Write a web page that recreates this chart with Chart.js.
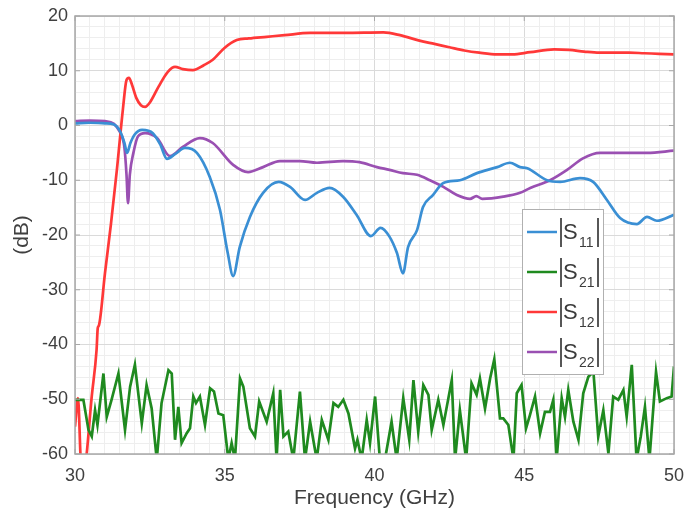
<!DOCTYPE html>
<html>
<head>
<meta charset="utf-8">
<script src="https://cdn.jsdelivr.net/npm/chart.js@4.4.1/dist/chart.umd.min.js"></script>
<style>
  html, body { margin: 0; padding: 0; background: #fff; }
  #wrap { width: 686px; height: 511px; position: relative; }
</style>
</head>
<body>
<div id="wrap"><canvas id="sparams"></canvas></div>
<script>
// S-parameter magnitudes (dB) vs frequency (GHz)
const freqS11 = [30, 30.5, 31, 31.3, 31.5, 31.65, 31.74, 31.85, 32.0, 32.24, 32.6, 32.85, 33.07, 33.35, 33.67, 34.07, 34.5, 34.84, 35.1, 35.28, 35.5, 35.84, 36.28, 36.8, 37.18, 37.68, 38.08, 38.5, 38.95, 39.4, 39.88, 40.2, 40.5, 40.75, 40.95, 41.12, 41.42, 41.62, 41.95, 42.3, 42.85, 43.42, 44.1, 44.52, 44.86, 45.1, 45.76, 46.2, 46.86, 47.3, 47.76, 48.2, 48.76, 49.1, 49.43, 50];
const magS11 = [0.4, 0.5, 0.4, 0.2, -1, -3.2, -5.0, -3.2, -1.6, -0.8, -1.4, -3.5, -6.1, -5.2, -4.1, -5.0, -9.4, -15.4, -23.3, -27.5, -22.2, -16.7, -12.3, -10.3, -11.2, -13.6, -12.3, -11.4, -13, -16.3, -20.2, -18.7, -20.3, -23.3, -27, -22.2, -19.1, -14.9, -12.7, -10.5, -10, -8.7, -7.6, -6.8, -7.6, -7.8, -10, -10.3, -9.6, -10.3, -13.6, -16.9, -18, -16.7, -17.4, -16.3];

const freqS21 = [30.0, 30.28, 30.45, 30.56, 30.67, 30.75, 30.95, 31.06, 31.22, 31.45,
  31.67, 31.84, 32.0, 32.23, 32.39, 32.56, 32.73, 32.89, 33.12, 33.23,
  33.34, 33.45, 33.56, 33.73, 33.84, 33.95, 34.04, 34.17, 34.34, 34.51,
  34.64, 34.79, 34.95, 35.12, 35.23, 35.34, 35.51, 35.62, 35.84, 36.01,
  36.15, 36.4, 36.62, 36.73, 36.85, 36.96, 37.12, 37.29, 37.51, 37.68,
  37.85, 38.07, 38.24, 38.46, 38.63, 38.79, 38.96, 39.13, 39.35, 39.43,
  39.57, 39.74, 39.85, 40.02, 40.18, 40.35, 40.57, 40.74, 40.96, 41.16,
  41.3, 41.46, 41.63, 41.8, 41.91, 42.13, 42.3, 42.58, 42.69, 42.85,
  43.06, 43.24, 43.41, 43.52, 43.69, 43.86, 44.0, 44.19, 44.3, 44.47,
  44.64, 44.75, 44.91, 45.06, 45.19, 45.36, 45.53, 45.69, 45.86, 45.97,
  46.08, 46.25, 46.36, 46.47, 46.64, 46.81, 46.97, 47.14, 47.31, 47.47,
  47.64, 47.81, 47.97, 48.14, 48.31, 48.42, 48.59, 48.75, 48.89, 49.03,
  49.18, 49.4, 49.53, 49.76, 49.92, 50.0];
const magS21 = [-50.1, -50.1, -55.6, -56.8, -52.0, -54.7, -45.3, -53.2, -50.1, -45.3,
  -55.6, -47.7, -43.7, -54.4, -47.4, -51.7, -61, -50.7, -44.7, -45.3,
  -57.4, -51.4, -58.0, -56.2, -55.3, -49.5, -50.7, -49.5, -54.7, -48.0,
  -48.6, -52.6, -52.9, -61, -58.0, -61, -46.2, -47.7, -55.3, -56.8,
  -50.4, -54.1, -48.9, -61, -48.3, -56.8, -55.9, -61, -48.6, -61,
  -54.1, -61, -53.8, -57.4, -50.7, -51.4, -50.1, -52.6, -59.0, -57.4,
  -61, -53.8, -58.0, -49.5, -61, -61, -54.1, -61, -49.8, -57.4,
  -46.5, -55.9, -47.4, -49.2, -55.6, -50.1, -54.7, -46.5, -61, -52.0,
  -61, -47.1, -49.2, -46.2, -51.7, -46.2, -42.7, -53.5, -53.5, -54.7,
  -61, -48.9, -47.4, -55.3, -52.9, -49.5, -56.2, -52.3, -52.3, -50.1,
  -61, -49.8, -53.2, -48.3, -54.1, -57.4, -48.9, -45.9, -45.0, -56.8,
  -52.0, -59.9, -49.5, -50.1, -48.3, -53.2, -43.7, -61, -56.8, -51.4,
  -61, -45.0, -50.4, -49.8, -49.5, -44.0];

const freqS12 = [30, 30.1, 30.2, 30.3, 30.39, 30.55, 30.72, 30.76, 30.8, 31.0, 31.2, 31.4, 31.6, 31.72, 31.8, 31.9, 32.05, 32.2, 32.34, 32.5, 32.8, 33.1, 33.34, 33.6, 33.94, 34.3, 34.6, 35.0, 35.4, 35.8, 36.4, 37.0, 37.85, 39.0, 40.3, 40.85, 41.5, 42.0, 42.5, 43.0, 43.5, 44.1, 44.6, 45.2, 46.0, 46.5, 47.0, 47.5, 48.0, 48.5, 49.0, 49.5, 50];
const magS12 = [-55, -49.8, -62, -64, -60, -50, -41, -37, -36.5, -27, -18, -8, 3, 8.3, 8.7, 7.5, 5, 3.7, 3.4, 4.2, 7.2, 9.8, 10.7, 10.3, 10.1, 11, 12, 14.2, 15.6, 15.9, 16.2, 16.5, 16.9, 16.9, 17.0, 16.5, 15.5, 14.9, 14.3, 13.7, 13.3, 13.0, 13.0, 13.4, 13.9, 13.8, 13.5, 13.3, 13.3, 13.3, 13.2, 13.1, 13.0];

const freqS22 = [30, 30.5, 31, 31.3, 31.5, 31.65, 31.72, 31.77, 31.83, 31.95, 32.1, 32.34, 32.74, 33.17, 33.6, 34.17, 34.6, 35.28, 35.78, 36.28, 36.84, 37.5, 38.08, 38.95, 39.5, 40.08, 40.5, 40.95, 41.42, 41.85, 42.3, 42.75, 43.19, 43.4, 43.6, 44.3, 44.86, 45.2, 45.86, 46.43, 46.96, 47.53, 48.43, 49.1, 50];
const magS22 = [0.8, 0.9, 0.8, 0.3, -1.2, -4, -9, -14.2, -9, -5, -2, -1.4, -2.3, -5.6, -3.9, -2.3, -3.2, -7.2, -8.5, -7.6, -6.5, -6.5, -6.8, -6.5, -6.7, -7.6, -8.1, -8.7, -9, -10, -11.2, -12.7, -13.4, -12.9, -13.4, -13, -12.3, -11.4, -10, -8.1, -6, -5, -5, -5, -4.6];

const subscripts = ['11', '21', '12', '22'];
const colors = ['#3a8fd4', '#1f8a1f', '#ff3838', '#9a50b2'];

const FONT = "'Liberation Sans', Arial, sans-serif";

function pts(fs, vs) {
    return fs.map((f, i) => ({ x: f, y: vs[i] }));
}

// box, inward ticks and the |S_ij| legend
const matlabBox = {
    id: 'matlabBox',
    afterDatasetsDraw(chart) {
        const { ctx, chartArea: a, scales } = chart;
        ctx.save();
        ctx.strokeStyle = '#a8a8a8';
        ctx.lineWidth = 1.5;
        ctx.strokeRect(a.left, a.top, a.right - a.left, a.bottom - a.top);
        ctx.lineWidth = 1;
        ctx.beginPath();
        for (let f = 30; f <= 50; f += 5) {
            const x = scales.x.getPixelForValue(f);
            ctx.moveTo(x, a.bottom); ctx.lineTo(x, a.bottom - 5);
            ctx.moveTo(x, a.top); ctx.lineTo(x, a.top + 5);
        }
        for (let v = -60; v <= 20; v += 10) {
            const y = scales.y.getPixelForValue(v);
            ctx.moveTo(a.left, y); ctx.lineTo(a.left + 5, y);
            ctx.moveTo(a.right, y); ctx.lineTo(a.right - 5, y);
        }
        ctx.stroke();

        // legend
        const L = a.right - 152, T = 209, W = 81, H = 165;
        ctx.fillStyle = '#fff';
        ctx.fillRect(L, T, W, H);
        ctx.strokeStyle = '#b0b0b0';
        ctx.strokeRect(L + 0.5, T + 0.5, W, H);
        subscripts.forEach((s, i) => {
            const y = T + 23 + 40 * i;
            ctx.strokeStyle = colors[i];
            ctx.lineWidth = 2.5;
            ctx.beginPath();
            ctx.moveTo(L + 5, y); ctx.lineTo(L + 35, y);
            ctx.stroke();
            ctx.strokeStyle = '#111';
            ctx.lineWidth = 1.4;
            ctx.beginPath();
            ctx.moveTo(L + 39, y - 14); ctx.lineTo(L + 39, y + 15);
            ctx.moveTo(L + 76, y - 14); ctx.lineTo(L + 76, y + 15);
            ctx.stroke();
            ctx.fillStyle = '#3c3c3c';
            ctx.textBaseline = 'alphabetic';
            ctx.textAlign = 'left';
            ctx.font = '22px ' + FONT;
            ctx.fillText('S', L + 41, y + 7);
            ctx.font = '14px ' + FONT;
            ctx.fillText(s, L + 57, y + 15);
        });
        ctx.restore();
    }
};

const isMajor = (v, step) => Math.abs(v / step - Math.round(v / step)) < 1e-6;

const ctx = document.getElementById('sparams').getContext('2d');
const chart = new Chart(ctx, {
    type: 'line',
    data: {
        datasets: [
            { label: 'S11', data: pts(freqS11, magS11), borderColor: colors[0], cubicInterpolationMode: 'monotone' },
            { label: 'S21', data: pts(freqS21, magS21), borderColor: colors[1], tension: 0 },
            { label: 'S12', data: pts(freqS12, magS12), borderColor: colors[2], cubicInterpolationMode: 'monotone' },
            { label: 'S22', data: pts(freqS22, magS22), borderColor: colors[3], cubicInterpolationMode: 'monotone' }
        ]
    },
    options: {
        responsive: true,
        maintainAspectRatio: false,
        animation: false,
        devicePixelRatio: 1,
        datasets: { line: { borderWidth: 2.7, pointRadius: 0, fill: false } },
        layout: { padding: { left: 0, right: 12, top: 16, bottom: 0 } },
        plugins: { legend: { display: false }, tooltip: { enabled: false } },
        scales: {
            x: {
                type: 'linear',
                min: 30, max: 50,
                afterFit: s => { s.height = 57; s.paddingLeft = 0; s.paddingRight = 0; },
                ticks: {
                    stepSize: 0.5, autoSkip: false, maxRotation: 0, padding: 11,
                    color: '#404040', font: { family: FONT, size: 18 },
                    callback: v => isMajor(v, 5) ? Math.round(v) : ''
                },
                grid: {
                    drawTicks: false,
                    color: c => isMajor(c.tick.value, 5) ? '#dadada' : '#eeeeee'
                },
                border: { display: false },
                title: {
                    display: true, text: 'Frequency (GHz)', color: '#404040',
                    font: { family: FONT, size: 21 }, padding: { top: 0, bottom: 0 }
                }
            },
            y: {
                min: -60, max: 20,
                afterFit: s => { s.width = 75; s.paddingTop = 0; s.paddingBottom = 0; },
                ticks: {
                    stepSize: 2, autoSkip: false, padding: 7,
                    color: '#404040', font: { family: FONT, size: 18 },
                    callback: v => isMajor(v, 10) ? Math.round(v) : ''
                },
                grid: {
                    drawTicks: false,
                    color: c => isMajor(c.tick.value, 10) ? '#dadada' : '#eeeeee'
                },
                border: { display: false },
                title: {
                    display: true, text: '(dB)', color: '#404040',
                    font: { family: FONT, size: 21 }, padding: { top: 10, bottom: 0 }
                }
            }
        }
    },
    plugins: [matlabBox]
});
</script>
</body>
</html>
